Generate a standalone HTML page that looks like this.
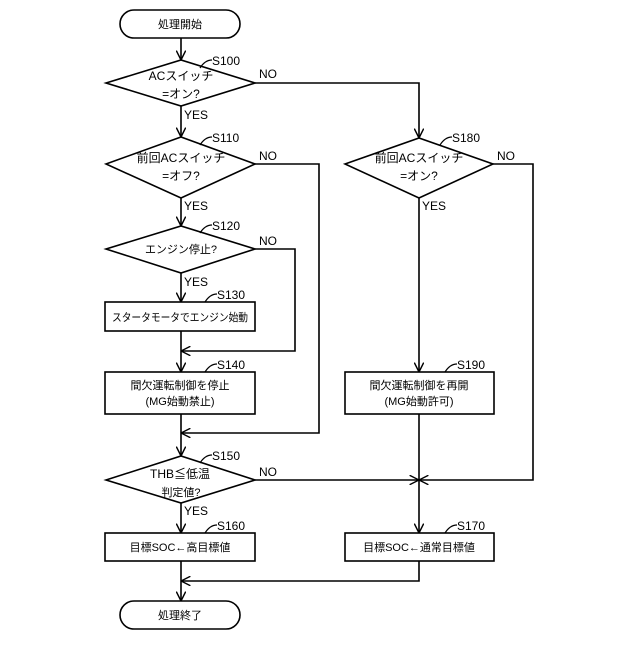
<!DOCTYPE html>
<html><head><meta charset="utf-8"><style>
html,body{margin:0;padding:0;background:#fff}
svg text{font-family:"Liberation Sans","Noto Sans CJK JP",sans-serif;fill:#000}
</style></head><body>
<svg width="640" height="640" viewBox="0 0 640 640" xmlns="http://www.w3.org/2000/svg">
<defs><marker id="a" viewBox="0 0 10 10" refX="10" refY="5" markerWidth="6" markerHeight="6" orient="auto"><path d="M0,0 L10,5 L0,10" fill="none" stroke="#000" stroke-width="1.5"/></marker></defs>
<g fill="none" stroke="#000" stroke-width="1.6">
<rect x="120" y="10" width="120" height="28" rx="14"/>
<rect x="120" y="601" width="120" height="28" rx="14"/>
<polygon points="106,83 181,60 255,83 181,106"/>
<polygon points="106,164 181,137 255,164 181,198"/>
<polygon points="345,164 419,138 493,164 419,198"/>
<polygon points="106,249 181,226 255,249 181,273"/>
<polygon points="106,480 181,456 255,480 181,503"/>
<rect x="105" y="302" width="150" height="29"/>
<rect x="105" y="372" width="150" height="42"/>
<rect x="345" y="372" width="149" height="42"/>
<rect x="105" y="533" width="150" height="28"/>
<rect x="345" y="533" width="149" height="28"/>
<line x1="181" y1="38" x2="181" y2="60" marker-end="url(#a)"/>
<line x1="181" y1="106" x2="181" y2="137" marker-end="url(#a)"/>
<line x1="181" y1="198" x2="181" y2="226" marker-end="url(#a)"/>
<line x1="181" y1="273" x2="181" y2="302" marker-end="url(#a)"/>
<line x1="181" y1="331" x2="181" y2="372" marker-end="url(#a)"/>
<line x1="181" y1="414" x2="181" y2="456" marker-end="url(#a)"/>
<line x1="181" y1="503" x2="181" y2="533" marker-end="url(#a)"/>
<line x1="181" y1="561" x2="181" y2="601" marker-end="url(#a)"/>
<polyline points="255,83 419,83 419,138" marker-end="url(#a)"/>
<polyline points="255,164 319,164 319,433 181,433" marker-end="url(#a)"/>
<polyline points="255,249 295,249 295,351 181,351" marker-end="url(#a)"/>
<polyline points="493,164 533,164 533,480 419,480" marker-end="url(#a)"/>
<line x1="255" y1="480" x2="419" y2="480" marker-end="url(#a)"/>
<line x1="419" y1="198" x2="419" y2="372" marker-end="url(#a)"/>
<line x1="419" y1="414" x2="419" y2="533" marker-end="url(#a)"/>
<polyline points="419,561 419,581 181,581" marker-end="url(#a)"/>
<g stroke-width="1.2">
<path d="M200,68 q5,-8 12,-8"/><path d="M200,145 q5,-8 12,-8"/><path d="M200,233 q5,-8 12,-8"/>
<path d="M205,302 q5,-8 12,-8"/><path d="M205,372 q5,-8 12,-8"/><path d="M200,463 q5,-8 12,-8"/>
<path d="M205,533 q5,-8 12,-8"/><path d="M440,145 q5,-8 12,-8"/><path d="M445,372 q5,-8 12,-8"/>
<path d="M445,533 q5,-8 12,-8"/>
</g>
</g>
<g font-size="12">
<text x="180" y="28" text-anchor="middle" font-size="11">処理開始</text>
<text x="180" y="619" text-anchor="middle" font-size="11">処理終了</text>
<text x="181" y="80" text-anchor="middle">ACスイッチ</text>
<text x="181" y="98" text-anchor="middle">=オン?</text>
<text x="181" y="162" text-anchor="middle">前回ACスイッチ</text>
<text x="181" y="180" text-anchor="middle">=オフ?</text>
<text x="419" y="162" text-anchor="middle">前回ACスイッチ</text>
<text x="419" y="180" text-anchor="middle">=オン?</text>
<text x="181" y="253" text-anchor="middle" font-size="11">エンジン停止?</text>
<text x="180" y="478" text-anchor="middle">THB≦低温</text>
<text x="181" y="496" text-anchor="middle" font-size="11">判定値?</text>
<text x="112" y="321" font-size="11" textLength="136" lengthAdjust="spacingAndGlyphs">スタータモータでエンジン始動</text>
<text x="180" y="389" text-anchor="middle" font-size="11">間欠運転制御を停止</text>
<text x="180" y="405" text-anchor="middle" font-size="11">(MG始動禁止)</text>
<text x="419" y="389" text-anchor="middle" font-size="11">間欠運転制御を再開</text>
<text x="419" y="405" text-anchor="middle" font-size="11">(MG始動許可)</text>
<text x="180" y="551" text-anchor="middle" font-size="11">目標SOC←高目標値</text>
<text x="419" y="551" text-anchor="middle" font-size="11">目標SOC←通常目標値</text>
<text x="212" y="65">S100</text><text x="212" y="142">S110</text><text x="212" y="230">S120</text>
<text x="217" y="299">S130</text><text x="217" y="369">S140</text><text x="212" y="460">S150</text>
<text x="217" y="530">S160</text><text x="452" y="142">S180</text><text x="457" y="369">S190</text>
<text x="457" y="530">S170</text>
<text x="259" y="78">NO</text><text x="259" y="160">NO</text><text x="259" y="245">NO</text>
<text x="259" y="476">NO</text><text x="497" y="160">NO</text>
<text x="184" y="119">YES</text><text x="184" y="210">YES</text><text x="184" y="286">YES</text>
<text x="184" y="515">YES</text><text x="422" y="210">YES</text>
</g>
</svg>
</body></html>
